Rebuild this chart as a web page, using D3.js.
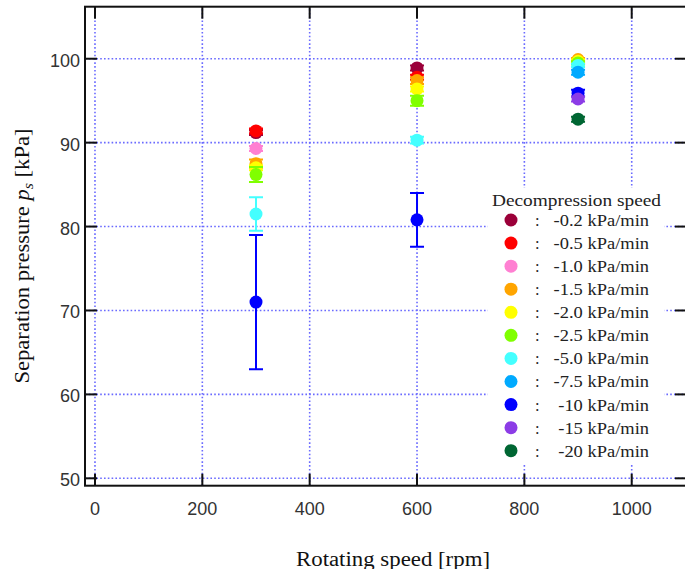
<!DOCTYPE html>
<html>
<head>
<meta charset="utf-8">
<script src="https://cdn.jsdelivr.net/npm/d3@7"></script>
<style>
  body { margin: 0; background: #fff; }
</style>
</head>
<body>
<div id="chart"></div>
<script>
// rotating speeds where measurements were taken
const speeds = [300, 600, 900]

// decompression speed series (kPa/min)
const seriesLabels = ['-0.2', '-0.5', '-1.0', '-1.5', '-2.0', '-2.5', '-5.0', '-7.5', '-10', '-15', '-20']
const seriesColors = ['#9b0039', '#ff0000', '#ff80d2', '#ffa500', '#ffff00', '#80ff00', '#44ffff', '#00aaff', '#0000ff', '#8c3ce6', '#006633']

// mean separation pressure [kPa] per series at each speed (null = no data)
const means = [
  [91.2, 98.9, null],
  [91.4, 97.8, null],
  [89.3, null, null],
  [87.5, 97.4, 99.9],
  [87.0, 96.4, 99.7],
  [86.2, 95.0, 99.5],
  [81.5, 90.3, 99.2],
  [null, null, 98.4],
  [71.0, 80.8, 95.9],
  [null, null, 95.2],
  [null, null, 92.8]
]

// error bar half widths [kPa]
const errors = [
  [0.3, 0.3, 0],
  [0.3, 0.3, 0],
  [0.3, 0, 0],
  [0.5, 0.4, 0.2],
  [0.3, 0.3, 0.2],
  [0.9, 0.6, 0.2],
  [2.0, 0.4, 0.2],
  [0, 0, 0.3],
  [8.0, 3.2, 0.4],
  [0, 0, 0.3],
  [0, 0, 0.3]
]

const xTicks = [0, 200, 400, 600, 800, 1000]
const yTicks = [50, 60, 70, 80, 90, 100]

const width = 685
const height = 569

const x = d3.scaleLinear().domain([-18.6, 1103]).range([85, 687])
const y = d3.scaleLinear().domain([49.12, 106.2]).range([485.7, 6.7])

const svg = d3.select('#chart').append('svg')
  .attr('width', width)
  .attr('height', height)

const [x0, x1] = x.range()
const [y0, y1] = y.range()

// dotted grid
const grid = svg.append('g')
  .attr('stroke', '#6a6aff')
  .attr('stroke-width', 1.6)
  .attr('stroke-dasharray', '1.6,2.2')
grid.selectAll('line.gx')
  .data(xTicks)
  .join('line')
  .attr('class', 'gx')
  .attr('x1', d => x(d)).attr('x2', d => x(d))
  .attr('y1', y0).attr('y2', y1)
grid.selectAll('line.gy')
  .data(yTicks)
  .join('line')
  .attr('class', 'gy')
  .attr('x1', x0).attr('x2', x1)
  .attr('y1', d => y(d)).attr('y2', d => y(d))

// inward ticks on all four sides
const tickLen = 12
const ticks = svg.append('g').attr('stroke', '#111').attr('stroke-width', 2)
ticks.selectAll('line.tb')
  .data(xTicks)
  .join('line')
  .attr('class', 'tb')
  .attr('x1', d => x(d)).attr('x2', d => x(d))
  .attr('y1', y0).attr('y2', y0 - tickLen)
ticks.selectAll('line.tt')
  .data(xTicks)
  .join('line')
  .attr('class', 'tt')
  .attr('x1', d => x(d)).attr('x2', d => x(d))
  .attr('y1', y1).attr('y2', y1 + tickLen)
ticks.selectAll('line.tl')
  .data(yTicks)
  .join('line')
  .attr('class', 'tl')
  .attr('x1', x0).attr('x2', x0 + tickLen)
  .attr('y1', d => y(d)).attr('y2', d => y(d))
ticks.selectAll('line.tr')
  .data(yTicks)
  .join('line')
  .attr('class', 'tr')
  .attr('x1', x1).attr('x2', x1 - tickLen)
  .attr('y1', d => y(d)).attr('y2', d => y(d))

// frame
svg.append('rect')
  .attr('x', x0).attr('y', y1)
  .attr('width', x1 - x0).attr('height', y0 - y1)
  .attr('fill', 'none')
  .attr('stroke', '#111')
  .attr('stroke-width', 2)

// tick labels
svg.append('g')
  .style('font', '18px "Liberation Sans", Arial, sans-serif')
  .attr('fill', '#333')
  .selectAll('text')
  .data(xTicks)
  .join('text')
  .attr('x', d => x(d))
  .attr('y', 515)
  .attr('text-anchor', 'middle')
  .text(d => d)

svg.append('g')
  .style('font', '18px "Liberation Sans", Arial, sans-serif')
  .attr('fill', '#333')
  .selectAll('text')
  .data(yTicks)
  .join('text')
  .attr('x', 80)
  .attr('y', d => y(d) + 8)
  .attr('text-anchor', 'end')
  .text(d => d)

// axis titles
svg.append('text')
  .attr('x', 393)
  .attr('y', 566)
  .attr('text-anchor', 'middle')
  .attr('textLength', 194)
  .attr('lengthAdjust', 'spacingAndGlyphs')
  .style('font', '20px "Liberation Serif", "Times New Roman", serif')
  .attr('fill', '#111')
  .text('Rotating speed [rpm]')

const yTitle = svg.append('text')
  .attr('transform', 'translate(29,256) rotate(-90)')
  .attr('text-anchor', 'middle')
  .attr('textLength', 255)
  .attr('lengthAdjust', 'spacingAndGlyphs')
  .style('font', '20px "Liberation Serif", "Times New Roman", serif')
  .attr('fill', '#111')
yTitle.append('tspan').text('Separation pressure ')
yTitle.append('tspan').style('font-style', 'italic').text('p')
yTitle.append('tspan').style('font-style', 'italic').style('font-size', '14px').attr('dy', 4).text('s')
yTitle.append('tspan').attr('dy', -4).text(' [kPa]')

// points with error bars, one group per series
const rows = seriesLabels.map((label, i) => ({
  label,
  color: seriesColors[i],
  pts: speeds.map((s, j) => ({ s, v: means[i][j], e: errors[i][j] })).filter(p => p.v !== null)
}))

const capW = 7
const series = svg.append('g')
  .selectAll('g')
  .data(rows)
  .join('g')
  .attr('stroke', d => d.color)
  .attr('fill', d => d.color)

series.selectAll('path')
  .data(d => d.pts)
  .join('path')
  .attr('fill', 'none')
  .attr('stroke-width', 2)
  .attr('d', p => {
    const cx = x(p.s)
    const top = y(p.v + p.e)
    const bot = y(p.v - p.e)
    return `M${cx},${top}V${bot}M${cx - capW},${top}H${cx + capW}M${cx - capW},${bot}H${cx + capW}`
  })

series.selectAll('circle')
  .data(d => d.pts)
  .join('circle')
  .attr('stroke', 'none')
  .attr('cx', p => x(p.s))
  .attr('cy', p => y(p.v))
  .attr('r', 6.5)

// legend
const legendFont = '"Liberation Serif", "Times New Roman", serif'
const legend = svg.append('g')
legend.append('rect')
  .attr('x', 488).attr('y', 188)
  .attr('width', 176).attr('height', 275)
  .attr('fill', '#fff')
legend.append('text')
  .attr('x', 492).attr('y', 206)
  .attr('textLength', 169)
  .attr('lengthAdjust', 'spacingAndGlyphs')
  .style('font', `17px ${legendFont}`)
  .attr('fill', '#222')
  .text('Decompression speed')

const rowY = i => 220 + i * 23.07
const item = legend.selectAll('g.item')
  .data(rows)
  .join('g')
  .attr('class', 'item')
item.append('circle')
  .attr('cx', 511)
  .attr('cy', (d, i) => rowY(i))
  .attr('r', 6.5)
  .attr('fill', d => d.color)
item.append('text')
  .attr('x', 535)
  .attr('y', (d, i) => rowY(i) + 6)
  .style('font', `16.5px ${legendFont}`)
  .attr('fill', '#222')
  .text(':')
item.append('text')
  .attr('transform', (d, i) => `translate(649,${rowY(i) + 6}) scale(1.12,1)`)
  .attr('text-anchor', 'end')
  .style('font', `16.5px ${legendFont}`)
  .attr('fill', '#222')
  .text(d => `${d.label} kPa/min`)
</script>
</body>
</html>
